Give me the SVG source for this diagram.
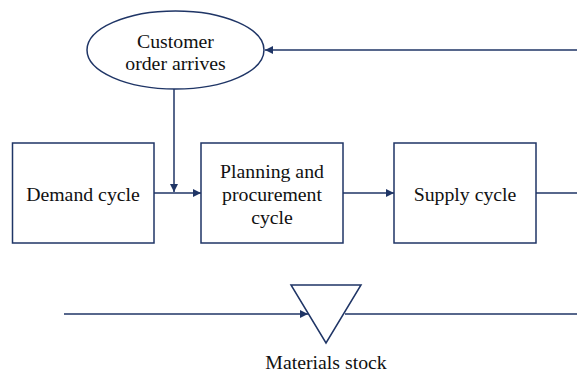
<svg xmlns="http://www.w3.org/2000/svg" width="577" height="372" viewBox="0 0 577 372">
  <style>
    .shape { fill: #ffffff; stroke: #1f3566; stroke-width: 1.5; }
    .link { fill: none; stroke: #1f3566; stroke-width: 1.5; }
    .label { font-family: "Liberation Serif", "DejaVu Serif", "Times New Roman", serif; font-size: 19.8px; fill: #111111; text-anchor: middle; }
  </style>
  <defs>
    <marker id="arrow" viewBox="0 0 10 10" refX="10" refY="5" markerWidth="8" markerHeight="8" markerUnits="userSpaceOnUse" orient="auto">
      <path d="M0,0 L10,5 L0,10 Z" fill="#1f3566"/>
    </marker>
  </defs>

  <rect width="577" height="372" fill="#ffffff"/>

  <g id="connectors">
    <line class="link" x1="577" y1="50" x2="265" y2="50" marker-end="url(#arrow)"/>
    <line class="link" x1="174" y1="89" x2="174" y2="192" marker-end="url(#arrow)"/>
    <line class="link" x1="154" y1="193" x2="201" y2="193" marker-end="url(#arrow)"/>
    <line class="link" x1="343" y1="193" x2="394" y2="193" marker-end="url(#arrow)"/>
    <line class="link" x1="536" y1="193" x2="577" y2="193"/>
    <line class="link" x1="64" y1="314" x2="308" y2="314" marker-end="url(#arrow)"/>
    <line class="link" x1="345" y1="314" x2="577" y2="314"/>
  </g>

  <g id="customer-order">
    <ellipse class="shape" cx="175.5" cy="50" rx="88.5" ry="39"/>
    <text class="label" x="175.5" y="48">Customer</text>
    <text class="label" x="175.5" y="70">order arrives</text>
  </g>

  <g id="demand-cycle">
    <rect class="shape" x="12.5" y="143" width="141.5" height="100"/>
    <text class="label" x="83" y="201">Demand cycle</text>
  </g>

  <g id="planning-cycle">
    <rect class="shape" x="201" y="143" width="142" height="100"/>
    <text class="label" x="272" y="178">Planning and</text>
    <text class="label" x="272" y="201">procurement</text>
    <text class="label" x="272" y="224">cycle</text>
  </g>

  <g id="supply-cycle">
    <rect class="shape" x="394" y="143" width="142" height="100"/>
    <text class="label" x="465" y="201">Supply cycle</text>
  </g>

  <g id="materials-stock">
    <polygon class="shape" points="291,285 361,285 326,343"/>
    <text class="label" x="326" y="369">Materials stock</text>
  </g>
</svg>
